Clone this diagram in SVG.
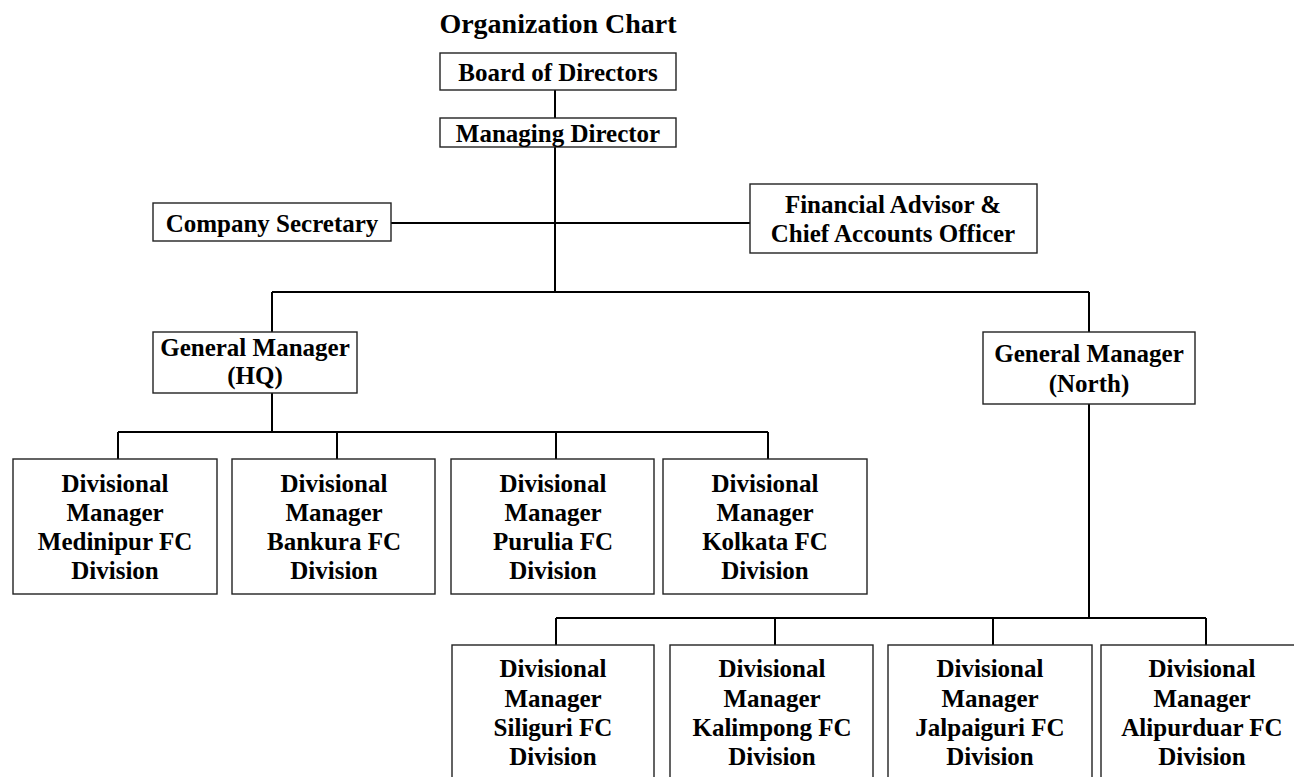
<svg xmlns="http://www.w3.org/2000/svg" width="1294" height="777" viewBox="0 0 1294 777">
<style>
.box{fill:#fff;stroke:#222;stroke-width:1.4}
.t{font-family:"Liberation Serif","Times New Roman",serif;font-weight:bold;font-size:25px;fill:#000;text-anchor:middle}
.title{font-size:28px}
.c{stroke:#000;stroke-width:2;fill:none}
</style>
<rect width="1294" height="777" fill="#fff"/>
<text class="t title" x="558" y="33">Organization Chart</text>
<g id="connectors">
<path class="c" d="M555 90V118M555 147V292M391 223H750M272 292H1089M272 292V332M1089 292V332M272 393V432M118 432H768M118 432V459M337 432V459M556 432V459M768 432V459M1089 404V618M556 618H1206M556 618V645M775 618V645M993 618V645M1206 618V645"/>
</g>
<g id="board"><rect class="box" x="440" y="53" width="236" height="37"/><text class="t" x="558" y="81">Board of Directors</text></g>
<g id="md"><rect class="box" x="440" y="118" width="236" height="29"/><text class="t" x="558" y="142">Managing Director</text></g>
<g id="cs"><rect class="box" x="153" y="203" width="238" height="38"/><text class="t" x="272" y="232">Company Secretary</text></g>
<g id="fa"><rect class="box" x="750" y="184" width="287" height="69"/><text class="t" x="893" y="213">Financial Advisor &amp;</text><text class="t" x="893" y="242">Chief Accounts Officer</text></g>
<g id="gmhq"><rect class="box" x="153" y="332" width="204" height="61"/><text class="t" x="255" y="356">General Manager</text><text class="t" x="255" y="384">(HQ)</text></g>
<g id="gmn"><rect class="box" x="983" y="332" width="212" height="72"/><text class="t" x="1089" y="362">General Manager</text><text class="t" x="1089" y="392">(North)</text></g>
<g id="dm-medinipur"><rect class="box" x="13" y="459" width="204" height="135"/><text class="t" x="115" y="492">Divisional</text><text class="t" x="115" y="521">Manager</text><text class="t" x="115" y="550">Medinipur FC</text><text class="t" x="115" y="579">Division</text></g>
<g id="dm-bankura"><rect class="box" x="232" y="459" width="203" height="135"/><text class="t" x="334" y="492">Divisional</text><text class="t" x="334" y="521">Manager</text><text class="t" x="334" y="550">Bankura FC</text><text class="t" x="334" y="579">Division</text></g>
<g id="dm-purulia"><rect class="box" x="451" y="459" width="203" height="135"/><text class="t" x="553" y="492">Divisional</text><text class="t" x="553" y="521">Manager</text><text class="t" x="553" y="550">Purulia FC</text><text class="t" x="553" y="579">Division</text></g>
<g id="dm-kolkata"><rect class="box" x="663" y="459" width="204" height="135"/><text class="t" x="765" y="492">Divisional</text><text class="t" x="765" y="521">Manager</text><text class="t" x="765" y="550">Kolkata FC</text><text class="t" x="765" y="579">Division</text></g>
<g id="dm-siliguri"><rect class="box" x="452" y="645" width="202" height="140"/><text class="t" x="553" y="677">Divisional</text><text class="t" x="553" y="707">Manager</text><text class="t" x="553" y="736">Siliguri FC</text><text class="t" x="553" y="765">Division</text></g>
<g id="dm-kalimpong"><rect class="box" x="670" y="645" width="203" height="140"/><text class="t" x="772" y="677">Divisional</text><text class="t" x="772" y="707">Manager</text><text class="t" x="772" y="736">Kalimpong FC</text><text class="t" x="772" y="765">Division</text></g>
<g id="dm-jalpaiguri"><rect class="box" x="888" y="645" width="204" height="140"/><text class="t" x="990" y="677">Divisional</text><text class="t" x="990" y="707">Manager</text><text class="t" x="990" y="736">Jalpaiguri FC</text><text class="t" x="990" y="765">Division</text></g>
<g id="dm-alipurduar"><rect class="box" x="1101" y="645" width="203" height="140"/><text class="t" x="1202" y="677">Divisional</text><text class="t" x="1202" y="707">Manager</text><text class="t" x="1202" y="736">Alipurduar FC</text><text class="t" x="1202" y="765">Division</text></g>
</svg>
